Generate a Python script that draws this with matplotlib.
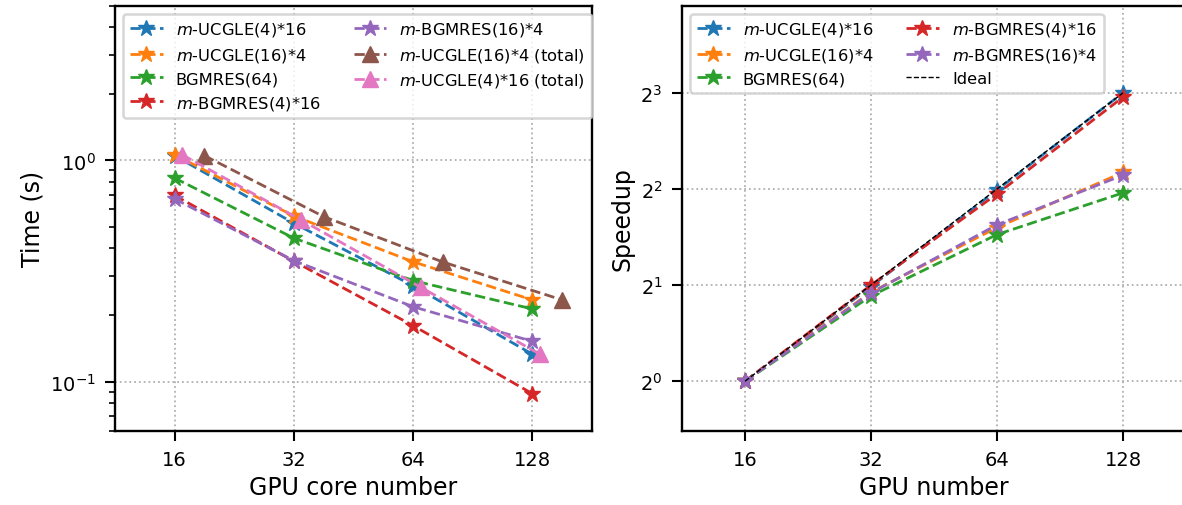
import matplotlib
matplotlib.use("Agg")
import matplotlib.pyplot as plt
from matplotlib.ticker import NullLocator
import numpy as np


label_fontsize = 17
tick_fontsize = 14
legend_fontsize = 11.8

gpu_list = [16, 32, 64, 128]

# time (s), left panel
time_ucgle_4x16 = [1.05, 0.52, 0.271, 0.133]
time_ucgle_16x4 = [1.06, 0.56, 0.348, 0.234]
time_bgmres_64 = [0.832, 0.445, 0.286, 0.213]
time_mbgmres_4x16 = [0.694, 0.35, 0.179, 0.0882]
time_mbgmres_16x4 = [0.670, 0.352, 0.218, 0.152]
time_ucgle_16x4_total = [1.05, 0.557, 0.347, 0.234]
time_ucgle_4x16_total = [1.06, 0.537, 0.267, 0.133]

# x shift of the "total" series (multiplicative, log2 axis)
shift_16x4_total = 2 ** 0.25
shift_4x16_total = 1.045

# speedup, right panel
speedup_ucgle_4x16 = [1.0, 1.98, 3.97, 8.0]
speedup_ucgle_16x4 = [1.0, 1.90, 3.03, 4.51]
speedup_bgmres_64 = [1.0, 1.85, 2.88, 3.89]
speedup_mbgmres_4x16 = [1.0, 2.0, 3.86, 7.76]
speedup_mbgmres_16x4 = [1.0, 1.89, 3.09, 4.42]
speedup_ideal = [1, 2, 4, 8]

legend2color = {
	"m-UCGLE(4)*16": "#1f77b4",
	"m-UCGLE(16)*4": "#ff7f0e",
	"BGMRES(64)": "#2ca02c",
	"m-BGMRES(4)*16": "#d62728",
	"m-BGMRES(16)*4": "#9467bd",
	"m-UCGLE(16)*4 (total)": "#8c564b",
	"m-UCGLE(4)*16 (total)": "#e377c2",
}

legend2tex = {
	"m-UCGLE(4)*16": r"$m$-UCGLE(4)*16",
	"m-UCGLE(16)*4": r"$m$-UCGLE(16)*4",
	"BGMRES(64)": "BGMRES(64)",
	"m-BGMRES(4)*16": r"$m$-BGMRES(4)*16",
	"m-BGMRES(16)*4": r"$m$-BGMRES(16)*4",
	"m-UCGLE(16)*4 (total)": r"$m$-UCGLE(16)*4 (total)",
	"m-UCGLE(4)*16 (total)": r"$m$-UCGLE(4)*16 (total)",
}


def style_ax(ax):
	ax.set_xscale("log", base=2)
	ax.set_xlim(16 / np.sqrt(2), 128 * np.sqrt(2))
	ax.set_xticks(gpu_list)
	ax.set_xticklabels([str(g) for g in gpu_list], fontsize=tick_fontsize)
	ax.xaxis.set_minor_locator(NullLocator())
	ax.grid(True, which="major", linestyle=":", color="#b0b0b0", linewidth=1.3)
	for sp in ax.spines.values():
		sp.set_linewidth(1.7)
	ax.tick_params(axis="both", which="major", length=7, width=1.5,
		labelsize=tick_fontsize, pad=7)
	ax.tick_params(axis="both", which="minor", length=4, width=1.2)


def style_legend(leg):
	leg.get_frame().set_linewidth(1.8)
	leg.get_frame().set_edgecolor("#cccccc")


fig = plt.figure(figsize=(11.82, 5.06), dpi=100)
ax0 = fig.add_axes([115 / 1182, (506 - 431.7) / 506, 477 / 1182, 425 / 506])
ax1 = fig.add_axes([682 / 1182, (506 - 431.7) / 506, 504 / 1182, 425 / 506])

line_kw = dict(linestyle="--", linewidth=2, markersize=12)

# ---- left: time ----
gpus = np.array(gpu_list, dtype=float)
for name, vals in [
	("m-UCGLE(4)*16", time_ucgle_4x16),
	("m-UCGLE(16)*4", time_ucgle_16x4),
	("BGMRES(64)", time_bgmres_64),
	("m-BGMRES(4)*16", time_mbgmres_4x16),
	("m-BGMRES(16)*4", time_mbgmres_16x4),
]:
	ax0.plot(gpus, vals, marker="*", color=legend2color[name], label=legend2tex[name], **line_kw)

ax0.plot(gpus * shift_16x4_total, time_ucgle_16x4_total, marker="^",
	color=legend2color["m-UCGLE(16)*4 (total)"], label=legend2tex["m-UCGLE(16)*4 (total)"],
	linestyle="--", linewidth=2, markersize=11)
ax0.plot(gpus * shift_4x16_total, time_ucgle_4x16_total, marker="^",
	color=legend2color["m-UCGLE(4)*16 (total)"], label=legend2tex["m-UCGLE(4)*16 (total)"],
	linestyle="--", linewidth=2, markersize=11)

ax0.set_yscale("log")
ax0.set_ylim(0.06, 5.0)
style_ax(ax0)
ax0.set_xlabel("GPU core number", fontsize=label_fontsize, labelpad=4)
ax0.set_ylabel("Time (s)", fontsize=label_fontsize)
leg0 = ax0.legend(ncol=2, loc="upper left", fontsize=legend_fontsize, columnspacing=2.0,
	handlelength=2.0, borderaxespad=0.5, labelspacing=0.45)
style_legend(leg0)

# ---- right: speedup ----
for name, vals in [
	("m-UCGLE(4)*16", speedup_ucgle_4x16),
	("m-UCGLE(16)*4", speedup_ucgle_16x4),
	("BGMRES(64)", speedup_bgmres_64),
	("m-BGMRES(4)*16", speedup_mbgmres_4x16),
	("m-BGMRES(16)*4", speedup_mbgmres_16x4),
]:
	ax1.plot(gpus, vals, marker="*", color=legend2color[name], label=legend2tex[name], **line_kw)
ax1.plot(gpus, speedup_ideal, linestyle="--", color="black", linewidth=1, label="Ideal")

ax1.set_yscale("log", base=2)
ax1.set_ylim(0.7, 15.0)
ax1.set_yticks([1, 2, 4, 8])
ax1.yaxis.set_minor_locator(NullLocator())
style_ax(ax1)
ax1.set_xlabel("GPU number", fontsize=label_fontsize, labelpad=4)
ax1.set_ylabel("Speedup", fontsize=label_fontsize)

leg1 = ax1.legend(ncol=2, loc="upper left", fontsize=legend_fontsize, columnspacing=2.0,
	handlelength=2.0, borderaxespad=0.5, labelspacing=0.45)
style_legend(leg1)

plt.savefig("out.png", dpi=100)
plt.close()
